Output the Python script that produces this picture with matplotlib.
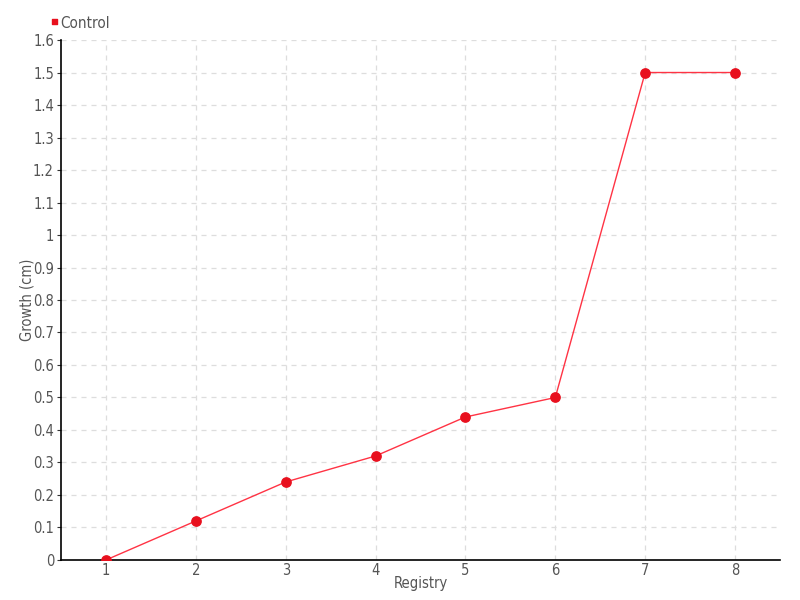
import matplotlib.pyplot as plt
from matplotlib.path import Path

# data
registry = [1, 2, 3, 4, 5, 6, 7, 8]
growth = [0, 0.12, 0.24, 0.32, 0.44, 0.5, 1.5, 1.5]
yticks = [round(0.1 * i, 1) for i in range(17)]
ylabels = ['%g' % v for v in yticks]

plt.rcParams['font.family'] = ['DejaVu Sans']
plt.rcParams['font.stretch'] = 'condensed'

fig = plt.figure(figsize=(8, 6), dpi=100)
ax = fig.add_axes([0.07625, 0.0667, 0.89875, 0.8666])

ax.plot(registry, growth, color='#ff3344', lw=1, zorder=2)
ax.scatter(registry, growth, s=45, color='#e8101e', zorder=3, label='Control')

ax.set_xlim(0.5, 8.5)
ax.set_ylim(0, 1.6)
ax.set_xticks(registry)
ax.set_yticks(yticks)
ax.set_yticklabels(ylabels)
ax.tick_params(colors='#555555', labelsize=10.5, length=3)
ax.tick_params(axis='x', length=0, pad=2)
ax.tick_params(axis='y', color='#333333', pad=2)

ax.grid(True, ls=(0, (4, 4)), color='#dddddd', lw=0.9)
ax.set_axisbelow(True)
for s in ['top', 'right']:
    ax.spines[s].set_visible(False)
ax.spines['left'].set_linewidth(1.2)
ax.spines['bottom'].set_linewidth(1.2)

ax.set_xlabel('Registry', color='#555555', fontsize=10.5, labelpad=-1)
ax.set_ylabel('Growth (cm)', color='#555555', fontsize=10.5)
ax.yaxis.set_label_coords(-0.037, 0.5)

leg = ax.legend(loc='lower left', bbox_to_anchor=(-0.03, 1.0), frameon=False,
                markerscale=0.55, handlelength=0.5, handletextpad=0.25,
                fontsize=11, labelcolor='#555555', borderaxespad=0.2)
leg.legend_handles[0].set_paths([Path.unit_rectangle()])

fig.savefig('out.png')
